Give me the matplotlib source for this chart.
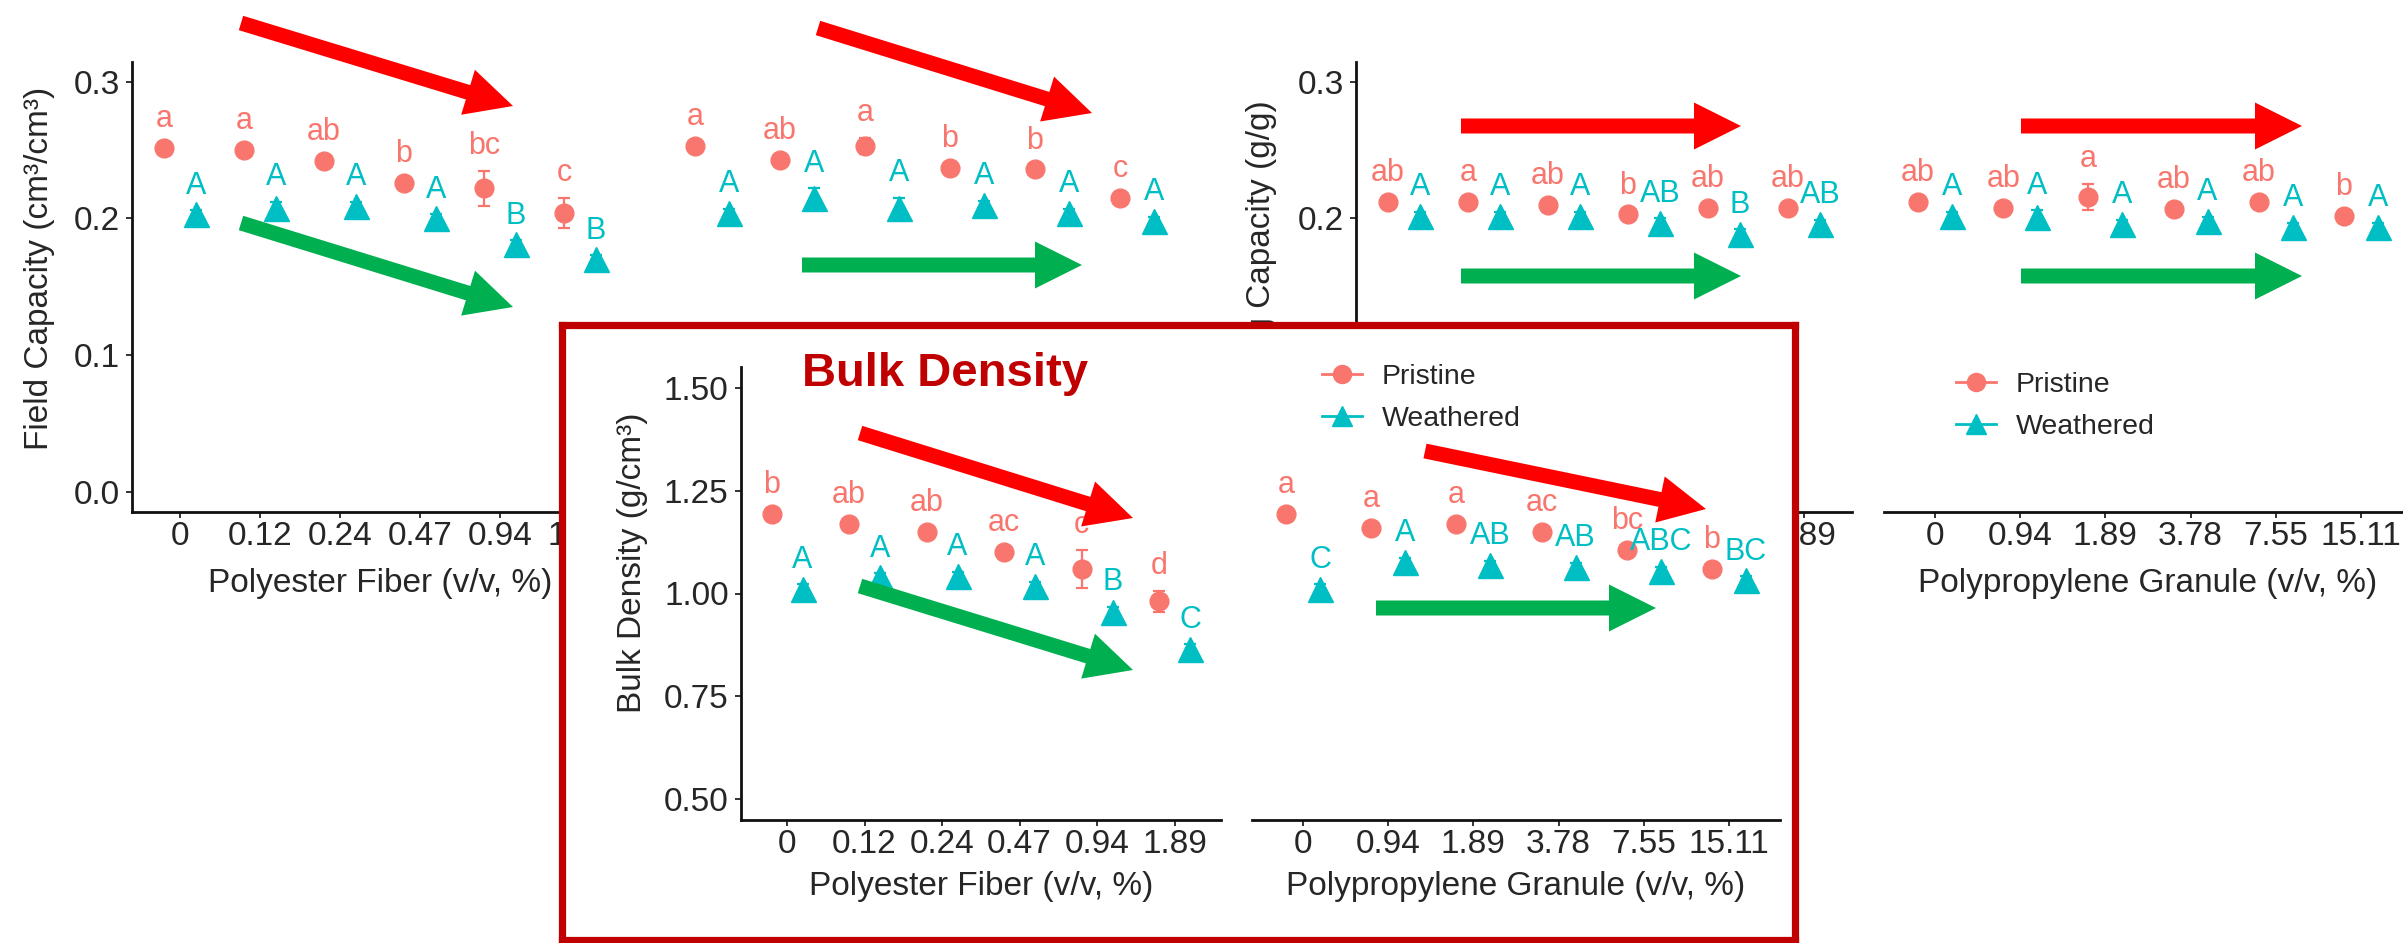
"""Field capacity / water holding capacity / bulk density collage (pristine vs weathered)."""
import numpy as np
import matplotlib.pyplot as plt
from matplotlib.lines import Line2D
from matplotlib.patches import FancyArrow

plt.rcParams['font.family'] = ['Liberation Sans', 'DejaVu Sans']

W, H = 2403, 943
PRISTINE = '#F8766D'
WEATHERED = '#00BFC4'
DARK_RED = '#C00000'
TEXT = '#262626'

# --- data ---
fiber_levels = ['0', '0.12', '0.24', '0.47', '0.94', '1.89']
granule_levels = ['0', '0.94', '1.89', '3.78', '7.55', '15.11']

# field capacity (cm3/cm3) vs polyester fiber
fc_fib_pri = [0.252, 0.250, 0.242, 0.226, 0.222, 0.204]
fc_fib_pri_se = [0.003, 0.003, 0.003, 0.003, 0.013, 0.011]
fc_fib_pri_let = ['a', 'a', 'ab', 'b', 'bc', 'c']
fc_fib_wea = [0.203, 0.208, 0.209, 0.200, 0.181, 0.170]
fc_fib_wea_se = [0.003, 0.004, 0.003, 0.003, 0.003, 0.003]
fc_fib_wea_let = ['A', 'A', 'A', 'A', 'B', 'B']

# field capacity (cm3/cm3) vs polypropylene granule
fc_gra_pri = [0.253, 0.243, 0.253, 0.237, 0.236, 0.215]
fc_gra_pri_se = [0.003, 0.003, 0.006, 0.003, 0.003, 0.003]
fc_gra_pri_let = ['a', 'ab', 'a', 'b', 'b', 'c']
fc_gra_wea = [0.204, 0.215, 0.208, 0.210, 0.204, 0.198]
fc_gra_wea_se = [0.003, 0.007, 0.007, 0.003, 0.003, 0.003]
fc_gra_wea_let = ['A', 'A', 'A', 'A', 'A', 'A']

# water holding capacity (g/g) vs polyester fiber
whc_fib_pri = [0.212, 0.212, 0.210, 0.203, 0.208, 0.208]
whc_fib_pri_se = [0.003, 0.003, 0.003, 0.003, 0.003, 0.003]
whc_fib_pri_let = ['ab', 'a', 'ab', 'b', 'ab', 'ab']
whc_fib_wea = [0.202, 0.202, 0.202, 0.197, 0.189, 0.196]
whc_fib_wea_se = [0.003, 0.003, 0.003, 0.003, 0.003, 0.003]
whc_fib_wea_let = ['A', 'A', 'A', 'AB', 'B', 'AB']

# water holding capacity (g/g) vs polypropylene granule
whc_gra_pri = [0.212, 0.208, 0.216, 0.207, 0.212, 0.202]
whc_gra_pri_se = [0.003, 0.003, 0.0095, 0.003, 0.003, 0.003]
whc_gra_pri_let = ['ab', 'ab', 'a', 'ab', 'ab', 'b']
whc_gra_wea = [0.202, 0.201, 0.196, 0.198, 0.194, 0.194]
whc_gra_wea_se = [0.003, 0.005, 0.003, 0.003, 0.003, 0.003]
whc_gra_wea_let = ['A', 'A', 'A', 'A', 'A', 'A']

# bulk density (g/cm3) vs polyester fiber
bd_fib_pri = [1.194, 1.170, 1.149, 1.102, 1.060, 0.981]
bd_fib_pri_se = [0.010, 0.010, 0.012, 0.010, 0.047, 0.025]
bd_fib_pri_let = ['b', 'ab', 'ab', 'ac', 'c', 'd']
bd_fib_wea = [1.010, 1.039, 1.042, 1.018, 0.955, 0.866]
bd_fib_wea_se = [0.012, 0.010, 0.010, 0.010, 0.012, 0.010]
bd_fib_wea_let = ['A', 'A', 'A', 'A', 'B', 'C']

# bulk density (g/cm3) vs polypropylene granule
bd_gra_pri = [1.194, 1.160, 1.170, 1.149, 1.107, 1.060]
bd_gra_pri_se = [0.010, 0.010, 0.010, 0.010, 0.010, 0.010]
bd_gra_pri_let = ['a', 'a', 'a', 'ac', 'bc', 'b']
bd_gra_wea = [1.010, 1.076, 1.070, 1.065, 1.055, 1.032]
bd_gra_wea_se = [0.012, 0.010, 0.010, 0.010, 0.010, 0.010]
bd_gra_wea_let = ['C', 'A', 'AB', 'AB', 'ABC', 'BC']

fig = plt.figure(figsize=(W / 100, H / 100), dpi=100)


def px_axes(left, right, top, bottom, **kw):
    return fig.add_axes([left / W, 1 - bottom / H, (right - left) / W,
                         (bottom - top) / H], **kw)


def style(ax, show_y=True):
    for s in ('top', 'right'):
        ax.spines[s].set_visible(False)
    for s in ('left', 'bottom'):
        ax.spines[s].set_linewidth(2.0)
        ax.spines[s].set_color('#111111')
    ax.tick_params(length=4.5, width=1.4, color='#333333', labelsize=24,
                   labelcolor=TEXT)
    ax.tick_params(axis='x', pad=2)
    ax.tick_params(axis='y', pad=4)
    if not show_y:
        ax.spines['left'].set_visible(False)
        ax.set_yticks([])
    ax.patch.set_alpha(0)


def points(ax, levels, pri, pri_se, pri_let, wea, wea_se, wea_let):
    x = np.arange(len(levels))
    ax.errorbar(x - 0.2, pri, yerr=pri_se, fmt='o', color=PRISTINE, ms=13.5,
                capsize=4, elinewidth=1.6, capthick=1.6)
    ax.errorbar(x + 0.2, wea, yerr=wea_se, fmt='^', color=WEATHERED, ms=18,
                capsize=4, elinewidth=1.6, capthick=1.6)
    for xs, ys, ss, labs, col in ((x - 0.2, pri, pri_se, pri_let, PRISTINE),
                                  (x + 0.2, wea, wea_se, wea_let, WEATHERED)):
        for xi, yi, si, lab in zip(xs, ys, ss, labs):
            ax.annotate(lab, (xi, yi + si), xytext=(0, 12),
                        textcoords='offset points', ha='center', va='baseline',
                        color=col, fontsize=22)
    ax.set_xticks(x, levels)
    ax.set_xlim(-0.6, len(levels) - 0.4)


def legend(ax, x_px, y_px):
    handles = [Line2D([], [], color=PRISTINE, marker='o', ms=13, lw=2),
               Line2D([], [], color=WEATHERED, marker='^', ms=15, lw=2)]
    ax.legend(handles, ['Pristine', 'Weathered'], loc='center left',
              bbox_to_anchor=(x_px / W, 1 - y_px / H),
              bbox_transform=fig.transFigure, frameon=False, fontsize=20.5,
              handlelength=1.4, handletextpad=0.7, labelspacing=0.55,
              borderpad=0, borderaxespad=0, labelcolor=TEXT)


top_ylim = (-0.015, 0.315)
top_yticks = [0.0, 0.1, 0.2, 0.3]

# --- top row ---
ax1 = px_axes(132, 628, 61.5, 512)
points(ax1, fiber_levels, fc_fib_pri, fc_fib_pri_se, fc_fib_pri_let,
       fc_fib_wea, fc_fib_wea_se, fc_fib_wea_let)
ax1.set_ylim(*top_ylim)
ax1.set_yticks(top_yticks, ['0.0', '0.1', '0.2', '0.3'])
style(ax1)
ax1.set_ylabel('Field Capacity (cm³/cm³)', fontsize=24, color=TEXT)
ax1.yaxis.set_label_coords(-0.155, 0.54)
ax1.set_xlabel('Polyester Fiber (v/v, %)', fontsize=24, color=TEXT)
ax1.xaxis.set_label_coords(0.5, -0.125)

ax2 = px_axes(661, 1188, 61.5, 512)
points(ax2, granule_levels, fc_gra_pri, fc_gra_pri_se, fc_gra_pri_let,
       fc_gra_wea, fc_gra_wea_se, fc_gra_wea_let)
ax2.set_ylim(*top_ylim)
style(ax2, show_y=False)
ax2.set_xlabel('Polypropylene Granule (v/v, %)', fontsize=24, color=TEXT)
ax2.xaxis.set_label_coords(0.5, -0.125)

ax3 = px_axes(1356, 1852, 61.5, 512)
points(ax3, fiber_levels, whc_fib_pri, whc_fib_pri_se, whc_fib_pri_let,
       whc_fib_wea, whc_fib_wea_se, whc_fib_wea_let)
ax3.set_ylim(*top_ylim)
ax3.set_yticks(top_yticks, ['0.0', '0.1', '0.2', '0.3'])
style(ax3)
ax3.text(-0.19, (512 - 100) / 450.5, 'Water Holding Capacity (g/g)',
         transform=ax3.transAxes, rotation=90, ha='center', va='top',
         fontsize=24, color=TEXT)
ax3.set_xlabel('Polyester Fiber (v/v, %)', fontsize=24, color=TEXT)
ax3.xaxis.set_label_coords(0.5, -0.125)

ax4 = px_axes(1884, 2412, 61.5, 512)
points(ax4, granule_levels, whc_gra_pri, whc_gra_pri_se, whc_gra_pri_let,
       whc_gra_wea, whc_gra_wea_se, whc_gra_wea_let)
ax4.set_ylim(*top_ylim)
style(ax4, show_y=False)
ax4.set_xlabel('Polypropylene Granule (v/v, %)', fontsize=24, color=TEXT)
ax4.xaxis.set_label_coords(0.5, -0.125)
legend(ax4, 1956, 406)

# --- bulk density inset box ---
box = px_axes(561.5, 1794.5, 324.5, 939.5, zorder=2)
box.set_xticks([])
box.set_yticks([])
for s in box.spines.values():
    s.set_color(DARK_RED)
    s.set_linewidth(5.2)
box.set_facecolor('white')

bd_ylim = (0.45, 1.55)
ax5 = px_axes(740.5, 1221, 367.5, 819.5, zorder=3)
points(ax5, fiber_levels, bd_fib_pri, bd_fib_pri_se, bd_fib_pri_let,
       bd_fib_wea, bd_fib_wea_se, bd_fib_wea_let)
ax5.set_ylim(*bd_ylim)
ax5.set_yticks([0.5, 0.75, 1.0, 1.25, 1.5], ['0.50', '0.75', '1.00', '1.25', '1.50'])
style(ax5)
ax5.set_ylabel('Bulk Density (g/cm³)', fontsize=24, color=TEXT)
ax5.yaxis.set_label_coords(-0.1925, 0.567)
ax5.set_xlabel('Polyester Fiber (v/v, %)', fontsize=24, color=TEXT)
ax5.xaxis.set_label_coords(0.5, -0.115)

ax6 = px_axes(1252, 1780, 367.5, 819.5, zorder=3)
points(ax6, granule_levels, bd_gra_pri, bd_gra_pri_se, bd_gra_pri_let,
       bd_gra_wea, bd_gra_wea_se, bd_gra_wea_let)
ax6.set_ylim(*bd_ylim)
style(ax6, show_y=False)
ax6.set_xlabel('Polypropylene Granule (v/v, %)', fontsize=24, color=TEXT)
ax6.xaxis.set_label_coords(0.5, -0.115)
legend(ax6, 1322, 398)

fig.text(802 / W, 1 - 386 / H, 'Bulk Density', fontsize=34, fontweight='bold',
         color=DARK_RED, ha='left', va='baseline', zorder=5)

# --- trend arrows (overlay in pixel space) ---
ov = fig.add_axes([0, 0, 1, 1], zorder=4)
ov.set_xlim(0, W)
ov.set_ylim(H, 0)
ov.axis('off')
arrows = [
    ('#FF0000', (241, 23), (513, 106)),
    ('#00B050', (241, 223), (513, 307)),
    ('#FF0000', (818, 28), (1092, 113)),
    ('#00B050', (802, 265), (1082, 265)),
    ('#FF0000', (1461, 126), (1741, 126)),
    ('#00B050', (1461, 276), (1741, 276)),
    ('#FF0000', (2021, 126), (2302, 126)),
    ('#00B050', (2021, 276), (2302, 276)),
    ('#FF0000', (860, 433), (1133, 518)),
    ('#00B050', (860, 586), (1133, 670)),
    ('#FF0000', (1425, 451), (1706, 509)),
    ('#00B050', (1376, 608), (1656, 608)),
]
for col, (x0, y0), (x1, y1) in arrows:
    ov.add_patch(FancyArrow(x0, y0, x1 - x0, y1 - y0, width=15, head_width=47,
                            head_length=47, length_includes_head=True,
                            color=col, lw=0))

fig.savefig('out.png', dpi=100)
plt.close()
